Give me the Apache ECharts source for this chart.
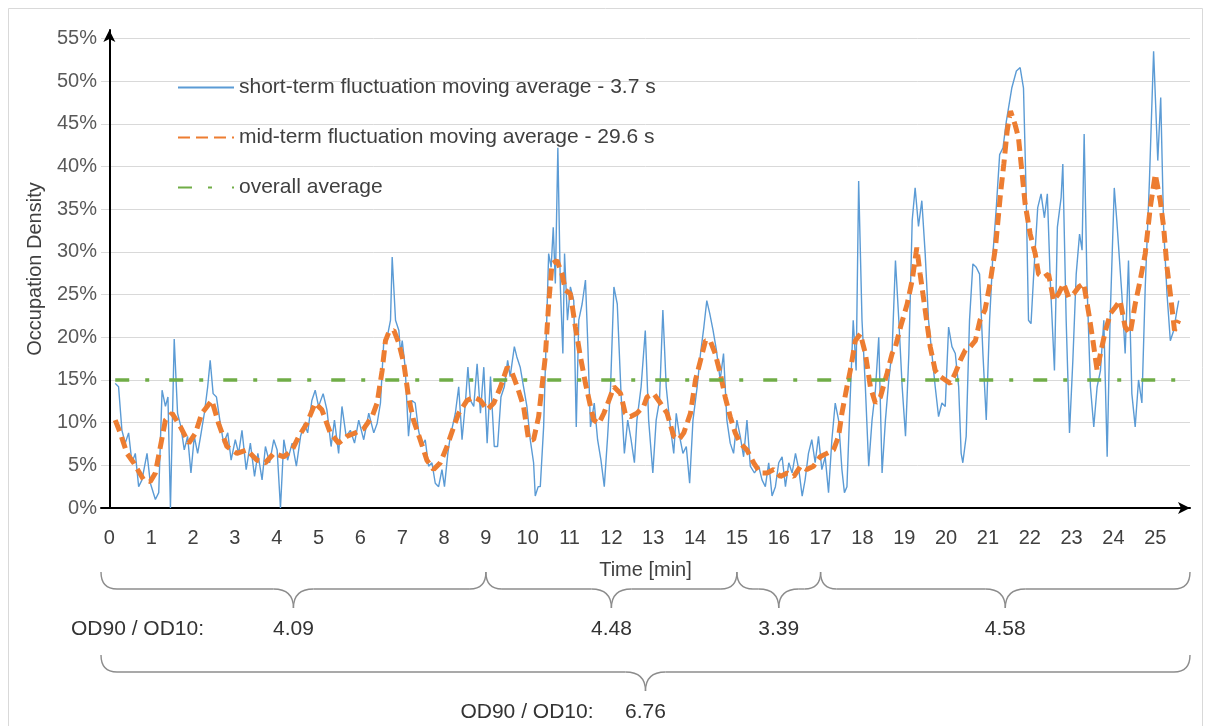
<!DOCTYPE html>
<html>
<head>
<meta charset="utf-8">
<title>Occupation Density over Time</title>
<script src="https://cdn.jsdelivr.net/npm/echarts@6/dist/echarts.min.js"></script>
<style>
  html, body { margin: 0; padding: 0; background: #ffffff; }
  #chart { width: 1211px; height: 726px; }
</style>
</head>
<body>
<div id="chart"></div>
<script>
// ---- data -------------------------------------------------------------
const timeLabels = [0,1,2,3,4,5,6,7,8,9,10,11,12,13,14,15,16,17,18,19,20,21,22,23,24,25];
const densityTicks = [0,5,10,15,20,25,30,35,40,45,50,55];

// short-term fluctuation moving average (3.7 s): [time in min, density in %]
const shortTerm = [
  [0.14,14.6],[0.22,14.2],[0.30,9.1],[0.38,7.6],[0.46,8.8],[0.54,5.3],[0.62,6.4],[0.70,2.5],[0.78,3.3],[0.90,6.4],
  [0.98,2.9],[1.10,1.0],[1.18,1.8],[1.26,13.8],[1.34,11.9],[1.40,13.0],[1.46,0],[1.55,19.8],[1.63,11.1],[1.71,9.5],
  [1.79,6.8],[1.87,8.4],[1.95,4.1],[2.03,8.4],[2.11,6.4],[2.18,8.4],[2.27,11.1],[2.35,14.2],[2.41,17.3],[2.48,13.4],
  [2.56,13.0],[2.64,10.3],[2.73,7.6],[2.83,8.8],[2.91,5.6],[3.01,8.0],[3.09,6.4],[3.17,9.1],[3.27,4.5],[3.37,7.6],
  [3.47,3.7],[3.55,6.4],[3.65,3.3],[3.73,7.2],[3.83,5.3],[3.93,8.0],[4.01,6.8],[4.09,0],[4.17,8.0],[4.26,5.6],
  [4.37,7.6],[4.47,4.9],[4.57,8.4],[4.66,9.9],[4.74,8.8],[4.84,12.6],[4.92,13.8],[5.00,11.9],[5.11,13.4],[5.20,11.5],
  [5.30,7.2],[5.38,10.3],[5.48,6.4],[5.56,11.9],[5.66,8.4],[5.76,9.1],[5.86,7.6],[5.96,10.3],[6.08,8.0],[6.20,11.1],
  [6.32,8.8],[6.40,9.9],[6.48,12.3],[6.56,19.6],[6.64,20.0],[6.72,22.0],[6.76,29.4],[6.84,22.0],[6.92,20.8],[6.96,18.1],
  [7.00,19.6],[7.07,16.5],[7.15,8.4],[7.23,12.6],[7.31,12.3],[7.39,9.1],[7.47,7.2],[7.55,8.0],[7.63,4.9],[7.71,5.3],
  [7.79,2.9],[7.87,2.5],[7.95,4.5],[8.01,2.5],[8.09,6.4],[8.15,8.4],[8.27,11.1],[8.35,14.2],[8.43,8.0],[8.51,12.3],
  [8.57,16.5],[8.63,12.6],[8.71,11.9],[8.79,16.9],[8.87,11.1],[8.95,16.5],[9.03,7.6],[9.11,15.4],[9.20,7.2],[9.28,7.2],
  [9.36,13.0],[9.44,14.2],[9.52,17.3],[9.58,15.4],[9.68,18.9],[9.74,17.7],[9.82,16.5],[9.90,14.2],[9.98,11.9],[10.06,8.0],
  [10.14,5.3],[10.18,1.4],[10.25,2.5],[10.30,2.5],[10.38,9.5],[10.44,19.6],[10.50,29.8],[10.56,28.2],[10.61,32.9],[10.66,26.3],
  [10.72,42.2],[10.78,25.9],[10.84,18.1],[10.88,29.8],[10.95,22.0],[11.02,25.9],[11.10,24.3],[11.16,9.5],[11.22,22.0],[11.30,23.9],
  [11.38,26.7],[11.43,20.0],[11.50,9.5],[11.59,12.3],[11.67,8.0],[11.75,5.6],[11.83,2.5],[11.91,8.4],[11.98,14.2],[12.06,25.9],
  [12.14,23.9],[12.23,13.4],[12.31,6.4],[12.39,10.3],[12.47,8.0],[12.55,5.3],[12.61,10.3],[12.71,14.2],[12.81,20.8],[12.89,10.3],
  [12.99,4.1],[13.07,10.3],[13.15,12.6],[13.23,23.2],[13.31,14.2],[13.39,10.3],[13.49,6.4],[13.55,11.1],[13.63,8.4],[13.71,6.4],
  [13.79,7.2],[13.87,2.9],[13.95,10.3],[14.05,14.2],[14.13,18.1],[14.21,21.2],[14.28,24.3],[14.35,22.8],[14.43,20.8],[14.51,18.5],
  [14.60,15.0],[14.68,18.1],[14.76,10.3],[14.84,7.6],[14.92,6.4],[15.00,10.3],[15.08,8.4],[15.16,6.0],[15.24,10.3],[15.32,4.9],
  [15.42,4.1],[15.52,4.9],[15.60,3.3],[15.68,2.5],[15.76,5.3],[15.84,1.4],[15.92,2.5],[16.00,5.3],[16.08,6.0],[16.16,2.5],
  [16.24,5.3],[16.32,4.1],[16.40,6.4],[16.48,4.5],[16.56,1.4],[16.63,3.3],[16.71,6.4],[16.79,8.0],[16.87,5.3],[16.95,8.4],
  [17.03,4.5],[17.11,6.0],[17.19,1.8],[17.27,8.0],[17.35,12.3],[17.43,10.3],[17.51,4.5],[17.57,1.8],[17.63,2.5],[17.70,11.9],
  [17.78,22.0],[17.85,16.1],[17.91,38.3],[17.99,22.0],[18.07,14.2],[18.15,4.9],[18.23,10.3],[18.31,13.8],[18.39,20.0],[18.47,4.1],
  [18.55,10.3],[18.63,15.0],[18.71,18.5],[18.79,29.0],[18.87,22.0],[18.95,14.2],[19.03,8.4],[19.11,18.1],[19.19,33.7],[19.26,37.5],
  [19.34,33.0],[19.42,36.0],[19.50,29.8],[19.58,22.0],[19.66,18.1],[19.74,14.2],[19.82,10.7],[19.90,12.3],[19.98,11.9],[20.06,21.2],
  [20.14,18.9],[20.22,18.1],[20.30,14.2],[20.36,6.4],[20.40,5.3],[20.48,8.4],[20.56,22.0],[20.64,28.6],[20.72,28.2],[20.80,27.4],
  [20.88,18.1],[20.96,10.3],[21.04,22.0],[21.12,29.8],[21.20,35.2],[21.28,41.4],[21.36,42.2],[21.44,45.3],[21.52,47.7],[21.57,49.2],
  [21.68,51.2],[21.77,51.6],[21.85,49.2],[21.91,37.5],[21.97,22.0],[22.03,21.6],[22.09,27.0],[22.19,35.2],[22.27,36.8],[22.35,34.0],
  [22.42,36.8],[22.49,26.7],[22.59,16.1],[22.66,32.9],[22.75,36.4],[22.79,40.3],[22.87,22.0],[22.95,8.8],[23.03,17.3],[23.11,27.4],
  [23.19,32.1],[23.25,30.2],[23.30,43.8],[23.37,25.9],[23.45,14.2],[23.53,9.5],[23.61,14.2],[23.69,16.1],[23.77,22.0],[23.85,6.0],
  [23.92,22.0],[24.02,37.5],[24.08,33.7],[24.20,25.1],[24.28,18.1],[24.36,29.0],[24.44,13.4],[24.52,9.5],[24.60,15.0],[24.68,12.3],
  [24.76,25.9],[24.86,38.3],[24.96,53.5],[25.06,40.7],[25.13,48.1],[25.20,32.9],[25.28,25.1],[25.36,19.6],[25.44,20.8],[25.52,23.2],
  [25.56,24.3]
];

// mid-term fluctuation moving average (29.6 s): [time in min, density in %]
const midTerm = [
  [0.14,10.3],[0.26,8.8],[0.42,6.4],[0.58,5.3],[0.82,3.3],[0.98,3.1],[1.10,4.1],[1.22,7.2],[1.34,10.3],[1.50,11.1],
  [1.70,9.5],[1.90,7.6],[2.06,8.8],[2.21,11.1],[2.45,12.6],[2.61,9.9],[2.81,7.2],[3.05,6.4],[3.29,6.8],[3.53,5.6],
  [3.73,5.3],[3.93,6.4],[4.17,6.0],[4.37,6.8],[4.53,8.4],[4.72,9.9],[4.92,12.3],[5.08,11.5],[5.28,8.8],[5.48,7.6],
  [5.68,8.4],[5.88,8.8],[6.08,9.3],[6.28,10.7],[6.40,12.3],[6.52,16.1],[6.60,19.6],[6.68,20.6],[6.80,20.8],[6.92,19.3],
  [7.04,16.9],[7.15,13.0],[7.27,10.3],[7.43,8.0],[7.59,5.6],[7.75,4.5],[7.91,5.3],[8.07,7.2],[8.23,9.5],[8.35,11.1],
  [8.55,12.6],[8.71,13.0],[8.87,12.6],[9.03,11.5],[9.19,12.3],[9.35,14.2],[9.51,16.5],[9.63,15.8],[9.75,14.2],[9.90,11.9],
  [10.02,8.0],[10.14,8.0],[10.26,10.7],[10.34,14.2],[10.42,17.7],[10.50,23.9],[10.58,28.6],[10.70,29.0],[10.82,27.4],[10.90,25.5],
  [11.02,25.1],[11.14,21.2],[11.26,17.7],[11.38,14.6],[11.50,11.9],[11.58,10.3],[11.70,9.9],[11.82,11.1],[11.94,12.6],[12.06,14.2],
  [12.22,13.4],[12.33,11.1],[12.45,10.7],[12.61,11.1],[12.77,11.9],[12.85,13.0],[13.01,13.4],[13.17,12.3],[13.33,11.1],[13.49,8.4],
  [13.61,8.0],[13.73,8.8],[13.89,11.1],[14.01,15.0],[14.13,17.3],[14.25,19.6],[14.36,19.6],[14.48,18.1],[14.60,15.8],[14.72,13.0],
  [14.84,10.7],[14.96,8.8],[15.08,7.6],[15.24,6.8],[15.40,5.3],[15.56,4.1],[15.72,4.1],[15.88,4.5],[16.04,3.7],[16.20,4.1],
  [16.36,3.7],[16.52,4.9],[16.67,4.5],[16.83,4.9],[16.99,6.0],[17.15,6.4],[17.31,6.8],[17.43,8.4],[17.51,11.1],[17.63,14.2],
  [17.71,16.1],[17.83,19.6],[17.95,20.4],[18.07,18.1],[18.19,14.2],[18.31,12.3],[18.43,13.0],[18.59,15.8],[18.71,18.1],[18.79,18.9],
  [18.91,21.2],[19.07,23.9],[19.19,26.7],[19.30,30.5],[19.38,27.4],[19.50,23.2],[19.62,18.9],[19.74,16.1],[19.86,15.4],[19.98,15.0],
  [20.10,14.6],[20.22,15.8],[20.34,17.3],[20.46,18.5],[20.58,18.9],[20.70,19.6],[20.81,22.0],[20.93,23.2],[21.05,26.3],[21.18,30.5],
  [21.30,36.8],[21.38,40.3],[21.46,44.2],[21.54,46.5],[21.65,44.9],[21.73,43.4],[21.81,39.5],[21.89,35.6],[22.01,32.1],[22.13,29.8],
  [22.21,27.4],[22.33,27.0],[22.45,27.4],[22.57,24.3],[22.69,25.1],[22.81,26.3],[22.93,24.7],[23.05,25.1],[23.17,25.9],[23.29,26.3],
  [23.41,22.8],[23.51,19.6],[23.61,16.1],[23.69,18.1],[23.81,20.8],[23.93,22.8],[24.04,23.5],[24.16,24.3],[24.28,21.2],[24.40,20.4],
  [24.52,23.9],[24.64,26.7],[24.76,29.8],[24.88,35.2],[25.00,39.1],[25.12,36.0],[25.20,32.9],[25.28,28.2],[25.36,25.1],[25.46,20.8],
  [25.56,22.0]
];

const overallAverage = 15.0;

// OD90 / OD10 ratios per phase (phases split at these minutes) and for the whole run
const phaseBreaks = [9, 15, 17];
const phaseRatios = [4.09, 4.48, 3.39, 4.58];
const overallRatio = 6.76;

const seriesNames = [
  'short-term fluctuation moving average - 3.7 s',
  'mid-term fluctuation moving average - 29.6 s',
  'overall average'
];

// ---- chart ------------------------------------------------------------
const FONT = "'Liberation Sans', Arial, sans-serif";
const X_MIN = -0.2, X_MAX = 25.83, Y_MAX = 56;

const tStart = shortTerm[0][0];
const tEnd = shortTerm[shortTerm.length - 1][0];
const averageLine = [[tStart, overallAverage], [tEnd, overallAverage]];

const chart = echarts.init(document.getElementById('chart'), null, { renderer: 'canvas' });

chart.setOption({
  animation: false,
  backgroundColor: '#ffffff',
  grid: { left: 101, right: 21, top: 30, bottom: 218 },
  legend: {
    orient: 'vertical',
    left: 172,
    top: 72,
    itemWidth: 56,
    itemHeight: 14,
    itemGap: 29,
    data: seriesNames,
    itemStyle: { opacity: 0 },
    textStyle: { fontFamily: FONT, fontSize: 21, color: '#404040' }
  },
  xAxis: {
    type: 'value',
    min: X_MIN,
    max: X_MAX,
    name: 'Time [min]',
    nameLocation: 'middle',
    nameGap: 52,
    nameTextStyle: { fontFamily: FONT, fontSize: 20, color: '#404040' },
    axisLine: {
      show: true, onZero: false,
      symbol: ['none', 'arrow'], symbolSize: [9, 12],
      lineStyle: { color: '#000000', width: 2 }
    },
    axisTick: { show: false, customValues: timeLabels },
    axisLabel: {
      customValues: timeLabels,
      margin: 20,
      fontFamily: FONT, fontSize: 20, color: '#404040'
    },
    splitLine: { show: false }
  },
  yAxis: {
    type: 'value',
    min: 0,
    max: Y_MAX,
    name: 'Occupation Density',
    nameLocation: 'middle',
    nameGap: 56,
    nameTextStyle: { fontFamily: FONT, fontSize: 20, color: '#404040' },
    axisLine: {
      show: true,
      symbol: ['none', 'arrow'], symbolSize: [9, 12],
      lineStyle: { color: '#000000', width: 2 }
    },
    axisTick: { show: false, customValues: densityTicks },
    axisLabel: {
      customValues: densityTicks,
      margin: 4,
      formatter: '{value}%',
      fontFamily: FONT, fontSize: 20, color: '#595959'
    },
    splitLine: { show: true, lineStyle: { color: '#d9d9d9', width: 1 } }
  },
  series: [
    {
      name: seriesNames[0],
      type: 'line',
      data: shortTerm,
      symbol: 'none',
      z: 2,
      lineStyle: { color: '#5b9bd5', width: 1.4 },
      itemStyle: { color: '#5b9bd5' }
    },
    {
      name: seriesNames[1],
      type: 'line',
      data: midTerm,
      symbol: 'none',
      z: 3,
      lineStyle: { color: '#ed7d31', width: 5, type: [12, 6], cap: 'butt' },
      itemStyle: { color: '#ed7d31' }
    },
    {
      name: seriesNames[2],
      type: 'line',
      data: averageLine,
      symbol: 'none',
      z: 4,
      lineStyle: { color: '#70ad47', width: 3.5, type: [14, 16, 4, 20], cap: 'butt' },
      itemStyle: { color: '#70ad47' }
    }
  ]
});

// ---- curly braces marking the phases, placed on the time axis ----------
const braceStyle = { stroke: '#8c8c8c', fill: null, lineWidth: 1.4 };

function curve(x1, y1, cx, cy, x2, y2) {
  return { type: 'bezierCurve', silent: true,
    shape: { x1: x1, y1: y1, cpx1: cx, cpy1: cy, x2: x2, y2: y2 }, style: braceStyle };
}
function straight(x1, y1, x2, y2) {
  return { type: 'line', silent: true,
    shape: { x1: x1, y1: y1, x2: x2, y2: y2 }, style: braceStyle };
}
function brace(x0, x1, yTop, yMid, yTip) {
  const r = 16, rt = 20, xm = (x0 + x1) / 2;
  return [
    curve(x0, yTop, x0, yMid, x0 + r, yMid),
    straight(x0 + r, yMid, xm - rt, yMid),
    curve(xm - rt, yMid, xm, yMid, xm, yTip),
    curve(xm, yTip, xm, yMid, xm + rt, yMid),
    straight(xm + rt, yMid, x1 - r, yMid),
    curve(x1 - r, yMid, x1, yMid, x1, yTop)
  ];
}
function label(text, x, y, align) {
  return {
    type: 'text', silent: true,
    style: {
      text: text, x: x, y: y,
      align: align, verticalAlign: 'middle',
      fill: '#333333', font: '21px ' + FONT
    }
  };
}

const toX = t => chart.convertToPixel({ xAxisIndex: 0 }, t);
const edges = [X_MIN].concat(phaseBreaks, [X_MAX]).map(toX);

let graphics = [];
for (let i = 0; i < phaseRatios.length; i++) {
  const x0 = edges[i], x1 = edges[i + 1];
  graphics = graphics.concat(brace(x0, x1, 572, 589, 608));
  graphics.push(label(phaseRatios[i].toFixed(2), (x0 + x1) / 2, 629, 'center'));
}
graphics.push(label('OD90 / OD10:', 71, 629, 'left'));

const xa = edges[0], xb = edges[edges.length - 1];
graphics = graphics.concat(brace(xa, xb, 655, 672, 691));
graphics.push(label(overallRatio.toFixed(2), (xa + xb) / 2, 712, 'center'));
graphics.push(label('OD90 / OD10:', (xa + xb) / 2 - 52, 712, 'right'));

// thin frame around the figure
graphics.push({
  type: 'rect', silent: true,
  shape: { x: 8.5, y: 8.5, width: 1194, height: 740 },
  style: { stroke: '#d9d9d9', fill: null, lineWidth: 1 }
});

chart.setOption({ graphic: graphics });
</script>
</body>
</html>
